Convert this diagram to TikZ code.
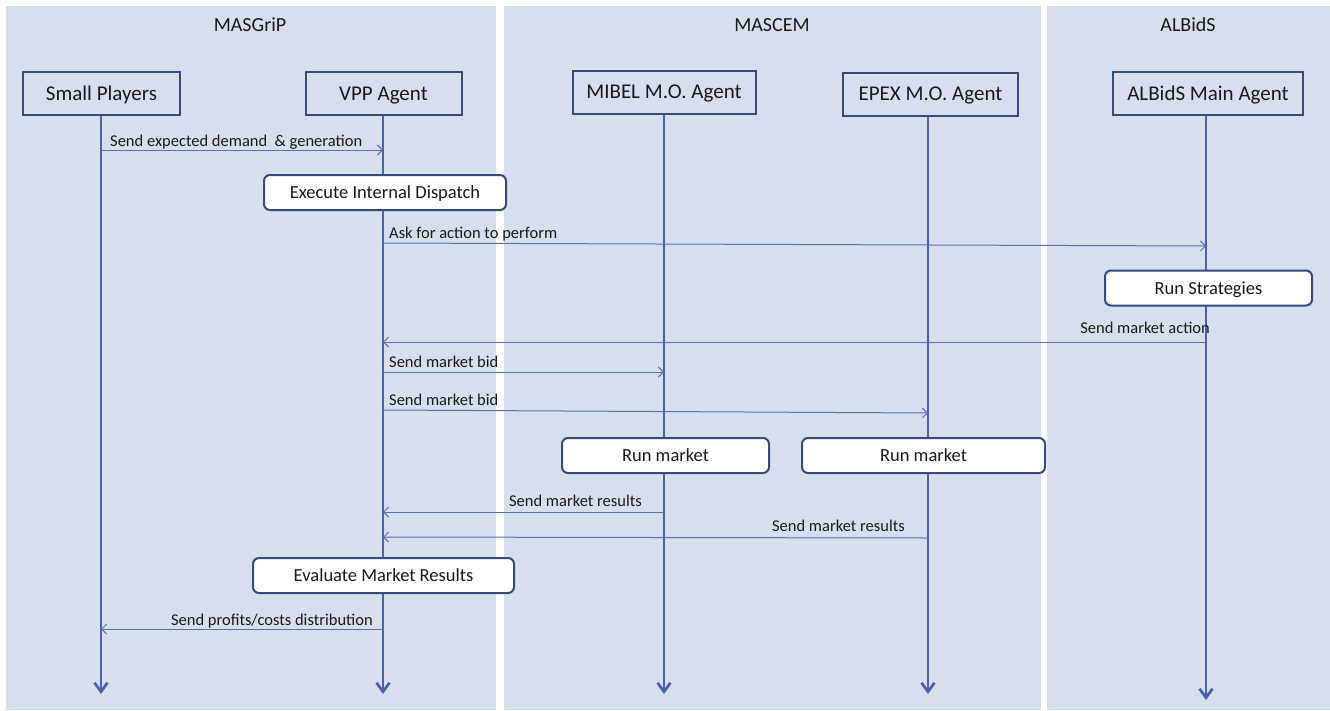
\documentclass[tikz,border=0pt]{standalone}
\usepackage{fontspec}
\setmainfont{Carlito}
\usetikzlibrary{arrows.meta}
\definecolor{panel}{RGB}{215,222,237}
\definecolor{life}{RGB}{72,99,172}
\definecolor{bord}{RGB}{55,74,122}
\definecolor{msgc}{RGB}{88,112,182}
\definecolor{txt}{RGB}{25,25,25}
\tikzset{
  paneltitle/.style={font=\fontsize{20}{24}\selectfont, text=txt},
  agent/.style={draw=bord, line width=2pt, fill=panel, rectangle, font=\fontsize{21}{25}\selectfont, text=txt, inner sep=0pt, text depth=0pt},
  lifeline/.style={draw=life, line width=2.7pt, -{Straight Barb[length=9pt, width=13pt, line width=2.7pt]}},
  activity/.style={draw=bord, line width=2pt, fill=white, rounded corners=6pt, rectangle, font=\fontsize{18.5}{22}\selectfont, text=txt, inner sep=0pt, minimum height=35pt, text depth=0pt},
  msg/.style={draw=msgc, line width=1pt, -{Straight Barb[length=5pt, width=10pt, line width=1pt]}},
  lbl/.style={font=\fontsize{16.5}{20}\selectfont, text=txt, inner sep=0pt},
}
\begin{document}
\begin{tikzpicture}[x=1pt, y=-1pt]
\useasboundingbox (0,0) rectangle (1330,710);
\fill[white] (0,0) rectangle (1330,710);
% panels
\fill[panel] (6,6) rectangle (496,710);
\fill[panel] (504,6) rectangle (1041,710);
\fill[panel] (1047,6) rectangle (1330,710);
\node[paneltitle] (t1) at (250,25) {MASGriP};
\node[paneltitle] (t2) at (772,25) {MASCEM};
\node[paneltitle] (t3) at (1188,25) {ALBidS};
% agents
\node[agent, minimum width=157pt, minimum height=43pt] (sp) at (101.5,93.5) {Small Players};
\node[agent, minimum width=156pt, minimum height=43pt] (vpp) at (383.5,93.5) {VPP Agent};
\node[agent, minimum width=183pt, minimum height=43pt] (mib) at (664,92) {MIBEL M.O. Agent};
\node[agent, minimum width=175pt, minimum height=43pt] (epx) at (930.5,94) {EPEX M.O. Agent};
\node[agent, minimum width=190pt, minimum height=43pt] (alb) at (1208,93.5) {ALBidS Main Agent};
% lifeline ends
\coordinate (spE) at (101,694);
\coordinate (vppE) at (383,694);
\coordinate (mibE) at (664,694);
\coordinate (epxE) at (928,694);
\coordinate (albE) at (1206,700);
\draw[lifeline] (sp.south -| spE) -- (spE);
\draw[lifeline] (vpp.south -| vppE) -- (vppE);
\draw[lifeline] (mib.south -| mibE) -- (mibE);
\draw[lifeline] (epx.south -| epxE) -- (epxE);
\draw[lifeline] (alb.south -| albE) -- (albE);
% activity boxes
\node[activity, minimum width=242pt] (exec) at (385,192.5) {Execute Internal Dispatch};
\node[activity, minimum width=207pt] (strat) at (1208.5,288) {Run Strategies};
\node[activity, minimum width=207pt] (rm1) at (665.5,455.5) {Run market};
\node[activity, minimum width=243pt] (rm2) at (923.5,455.5) {Run market};
\node[activity, minimum width=261pt] (eval) at (383.5,575.5) {Evaluate Market Results};
% message endpoints
\coordinate (m1a) at (101,150);  \coordinate (m1b) at (383,150);
\coordinate (m2a) at (383,243);  \coordinate (m2b) at (1206,246);
\coordinate (m3a) at (1206,342); \coordinate (m3b) at (383,342);
\coordinate (m4a) at (383,372);  \coordinate (m4b) at (664,372);
\coordinate (m5a) at (383,410);  \coordinate (m5b) at (928,413);
\coordinate (m6a) at (664,512);  \coordinate (m6b) at (383,512);
\coordinate (m7a) at (928,538);  \coordinate (m7b) at (383,537);
\coordinate (m8a) at (383,629);  \coordinate (m8b) at (101,629);
\draw[msg] (m1a) -- (m1b);
\draw[msg] (m2a) -- (m2b);
\draw[msg] (m3a) -- (m3b);
\draw[msg] (m4a) -- (m4b);
\draw[msg] (m5a) -- (m5b);
\draw[msg] (m6a) -- (m6b);
\draw[msg] (m7a) -- (m7b);
\draw[msg] (m8a) -- (m8b);
% labels
\node[lbl, anchor=base west] (l1) at (110,146) {Send expected demand\ \ \& generation};
\node[lbl, anchor=base west] (l2) at (389,238) {Ask for action to perform};
\node[lbl, anchor=base east] (l3) at (1210,333.5) {Send market action};
\node[lbl, anchor=base west] (l4) at (389,367) {Send market bid};
\node[lbl, anchor=base west] (l5) at (389,405.5) {Send market bid};
\node[lbl, anchor=base east] (l6) at (642,506.5) {Send market results};
\node[lbl, anchor=base east] (l7) at (905,531) {Send market results};
\node[lbl, anchor=base east] (l8) at (373,625.5) {Send profits/costs distribution};
\end{tikzpicture}
\end{document}
